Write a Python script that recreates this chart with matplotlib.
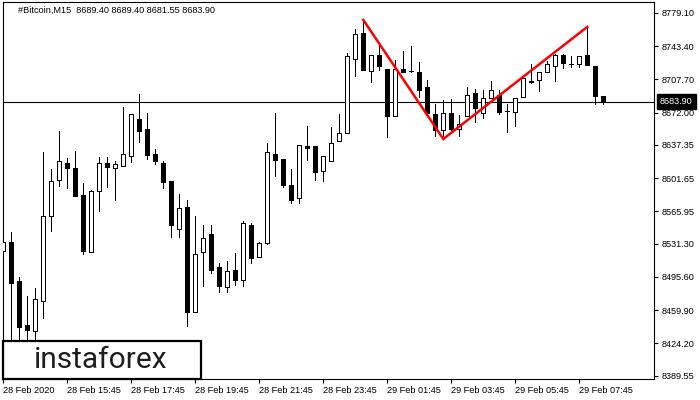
import matplotlib
matplotlib.use("Agg")
import matplotlib.pyplot as plt
from matplotlib.patches import Rectangle
import numpy as np

# ---- data (M15 bars starting 28 Feb 2020 13:45) ----
opens = [8523.5, 8533.1, 8491.2, 8444.0, 8437.5, 8469.7, 8561.0, 8599.7, 8618.0, 8612.6,
         8583.6, 8522.4, 8587.9, 8618.0, 8612.6, 8614.8, 8625.5, 8665.2, 8654.5, 8627.6,
         8618.0, 8598.6, 8547.1, 8570.7, 8457.9, 8522.4, 8541.7, 8506.3, 8484.8, 8503.1,
         8492.3, 8551.4, 8517.0, 8532.0, 8627.6, 8622.3, 8594.3, 8580.4, 8636.2, 8636.2,
         8609.4, 8620.1, 8641.6, 8650.2, 8729.7, 8757.6, 8716.8, 8734.0, 8719.0, 8668.4,
         8719.0, 8716.8, 8715.7, 8699.6, 8670.6, 8653.4, 8671.7, 8654.5, 8668.4, 8693.2,
         8671.7, 8687.8, 8691.0, 8673.8, 8672.7, 8688.9, 8705.0, 8707.1, 8715.7, 8722.2,
         8734.0, 8724.3, 8724.3, 8734.0, 8722.2, 8689.40]
highs = [8538.5, 8543.9, 8495.5, 8475.1, 8483.7, 8629.8, 8611.5, 8652.3, 8623.3, 8630.9,
         8596.5, 8589.0, 8624.4, 8624.4, 8620.1, 8678.1, 8671.0, 8692.1, 8671.7, 8633.0,
         8620.1, 8598.6, 8584.7, 8578.2, 8561.0, 8551.4, 8551.4, 8510.6, 8512.7, 8521.3,
         8555.7, 8553.5, 8533.1, 8639.5, 8671.7, 8622.3, 8611.5, 8637.3, 8657.7, 8636.2,
         8625.5, 8656.6, 8670.6, 8736.1, 8761.9, 8771.6, 8734.0, 8745.8, 8719.0, 8728.6,
         8738.3, 8743.7, 8726.5, 8707.1, 8681.3, 8685.6, 8686.7, 8669.5, 8699.6, 8697.5,
         8696.4, 8706.1, 8696.4, 8681.3, 8687.8, 8711.4, 8724.3, 8715.7, 8727.6, 8735.1,
         8735.1, 8732.9, 8732.9, 8764.1, 8722.2, 8689.40]
lows = [8517.0, 8418.2, 8420.0, 8416.0, 8425.0, 8451.5, 8544.9, 8593.3, 8591.1, 8582.0,
        8520.3, 8522.0, 8566.4, 8592.2, 8578.2, 8614.3, 8619.0, 8640.5, 8622.3, 8616.9,
        8591.1, 8538.5, 8538.5, 8442.9, 8457.5, 8485.9, 8499.8, 8479.4, 8479.4, 8486.9,
        8485.9, 8510.6, 8516.5, 8531.0, 8604.0, 8592.2, 8575.0, 8575.0, 8621.2, 8599.7,
        8598.6, 8620.1, 8641.6, 8650.0, 8711.4, 8717.5, 8705.0, 8717.9, 8645.9, 8668.0,
        8715.5, 8716.0, 8688.9, 8671.0, 8647.0, 8643.7, 8651.3, 8647.0, 8668.0, 8662.0,
        8666.3, 8687.5, 8670.6, 8651.3, 8657.7, 8688.5, 8703.9, 8695.3, 8715.5, 8706.1,
        8720.0, 8721.1, 8721.1, 8723.0, 8681.3, 8681.55]
closes = [8533.1, 8489.1, 8441.8, 8438.6, 8471.9, 8561.0, 8598.6, 8620.1, 8612.6, 8582.5,
          8523.5, 8587.9, 8618.0, 8613.7, 8616.9, 8627.6, 8670.6, 8652.3, 8626.6, 8620.1,
          8597.6, 8551.4, 8569.6, 8457.9, 8520.3, 8537.4, 8503.1, 8485.9, 8502.0, 8492.3,
          8553.5, 8515.9, 8532.0, 8629.8, 8621.2, 8594.3, 8578.2, 8637.3, 8634.1, 8608.3,
          8625.5, 8639.5, 8650.2, 8732.9, 8756.6, 8717.9, 8734.0, 8722.2, 8668.4, 8719.0,
          8715.7, 8716.5, 8696.4, 8671.7, 8653.4, 8671.7, 8654.5, 8659.9, 8691.0, 8677.0,
          8687.8, 8696.4, 8672.7, 8673.5, 8687.8, 8709.3, 8705.5, 8715.7, 8724.3, 8734.0,
          8725.4, 8724.0, 8732.9, 8723.3, 8689.4, 8683.90]

x_tick_bars = [0, 8, 16, 24, 32, 40, 48, 56, 64, 72]
x_tick_labels = ["28 Feb 2020", "28 Feb 15:45", "28 Feb 17:45", "28 Feb 19:45",
                 "28 Feb 21:45", "28 Feb 23:45", "29 Feb 01:45", "29 Feb 03:45",
                 "29 Feb 05:45", "29 Feb 07:45"]
y_ticks = [8779.10, 8743.40, 8707.70, 8672.00, 8637.35, 8601.65, 8565.95,
           8531.30, 8495.60, 8459.90, 8424.20, 8389.55]
title_text = "#Bitcoin,M15  8689.40 8689.40 8681.55 8683.90"
pattern_bars = [45, 55, 73]
pattern_kinds = ["high", "low", "high"]
logo_text = "instaforex"

# ---- figure ----
W, H = 700, 400
fig = plt.figure(figsize=(7, 4), dpi=100)
fig.patch.set_facecolor("white")
FONT = "Liberation Sans"
FS = 6.6

ax_left, ax_right, ax_top, ax_bottom = 2.5, 654.0, 2.3, 379.0
ax = fig.add_axes([ax_left / W, (H - ax_bottom) / H,
                   (ax_right - ax_left) / W, (ax_bottom - ax_top) / H])
ax.set_facecolor("white")

o = np.array(opens); h = np.array(highs); l = np.array(lows); c = np.array(closes)
x = np.arange(len(o))
up = c >= o

ax.vlines(x, l, h, color="black", lw=0.6, antialiased=False, zorder=2)
bottoms = np.minimum(o, c)
heights = np.abs(c - o)
ax.bar(x, heights, bottom=bottoms, width=0.5,
       color=["white" if u else "black" for u in up],
       edgecolor="black", lw=0.6, antialiased=False, zorder=3)

# current price line
ax.axhline(c[-1], color="black", lw=0.8, zorder=1)

# pattern line
src = {"high": h, "low": l}
px = pattern_bars
py = [src[k][b] for b, k in zip(pattern_bars, pattern_kinds)]
ax.plot(px, py, color="#ff0000", lw=1.8, zorder=5, solid_joinstyle="miter")

# limits (8 px per bar)
ax.set_xlim(-0.1, -0.1 + (ax_right - ax_left) / 8.0)
ax.set_ylim(8385.9, 8790.5)

# axes styling
for s in ax.spines.values():
    s.set_color("black")
    s.set_linewidth(0.8)

ax.set_xticks(x_tick_bars)
ax.set_xticklabels(x_tick_labels, ha="left", fontsize=FS, family=FONT)
ax.tick_params(axis="x", direction="out", length=3, width=0.8, pad=2, colors="black")

ax.yaxis.tick_right()
ax.set_yticks(y_ticks)
ax.set_yticklabels([f"{v:.2f}" for v in y_ticks], fontsize=FS, family=FONT)
ax.tick_params(axis="y", direction="out", length=3, width=0.8, pad=2.5, colors="black")

# current price label
ax.annotate(f"{c[-1]:.2f}", xy=(1, c[-1]), xycoords=("axes fraction", "data"),
            xytext=(6, 0), textcoords="offset pixels", ha="left", va="center",
            fontsize=FS, family=FONT, color="white", zorder=10, annotation_clip=False,
            bbox=dict(boxstyle="square,pad=0.3", facecolor="black", edgecolor="black"))

# title
fig.text(18 / W, 1 - 10.5 / H, title_text, fontsize=FS, family=FONT,
         ha="left", va="center", color="black")

# logo box
box = Rectangle((2.5 / W, (H - 378.5) / H), 198.5 / W, 38 / H,
                transform=fig.transFigure, facecolor="white", edgecolor="black",
                lw=1.6, zorder=20)
fig.add_artist(box)
fig.text(101 / W, 1 - 360 / H, logo_text, fontsize=21.5, family="Roboto",
         ha="center", va="center", color="#1e1e1e", zorder=21)

fig.savefig("out.png", dpi=100, facecolor="white")
